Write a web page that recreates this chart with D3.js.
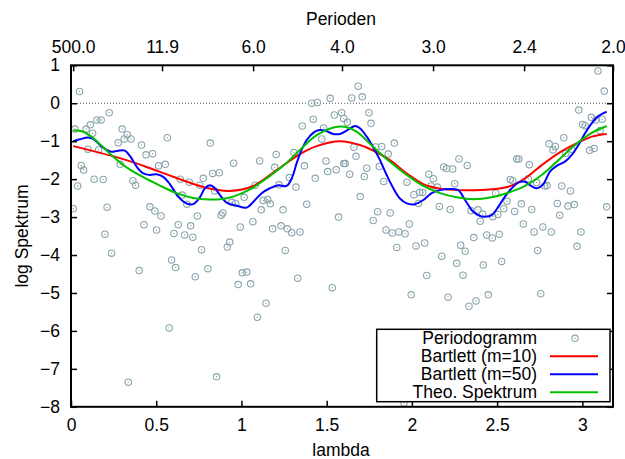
<!DOCTYPE html>
<html>
<head>
<meta charset="utf-8">
<script src="https://cdn.jsdelivr.net/npm/d3@7"></script>
<style>
body { margin: 0; background: #fff; }
text { font-family: "Liberation Sans", Arial, sans-serif; }
</style>
</head>
<body>
<svg id="Viz" width="625" height="459"></svg>
<script>
// tick values / labels
var lambdaTicks = [0, 0.5, 1, 1.5, 2, 2.5, 3];
var logTicks = [-8, -7, -6, -5, -4, -3, -2, -1, 0, 1];
var periodIdx = [1, 42, 84, 125, 167, 209, 250];
var periodLabels = ["500.0", "11.9", "6.0", "4.0", "3.0", "2.4", "2.0"];

// periodogram points [lambda, log]
var periodogram = [
  [0.050,0.31],[0.224,-0.25],[0.152,-0.44],[0.177,-0.44],[0.113,-0.57],[0.089,-0.68],[0.023,-0.68],
  [0.127,-0.79],[0.300,-0.68],[0.330,-0.83],[0.312,-0.94],[0.352,-0.94],[0.277,-1.04],[0.565,-0.91],
  [0.414,-1.10],[0.099,-1.21],[0.162,-1.23],[0.440,-1.36],[0.479,-1.33],[0.060,-1.64],[0.074,-1.76],
  [0.289,-1.61],[0.514,-1.65],[0.553,-1.61],[0.136,-2.00],[0.189,-2.01],[0.363,-2.04],[0.379,-2.16],
  [0.039,-2.18],[0.641,-2.00],[0.694,-2.08],[0.776,-1.98],[0.755,-2.16],[0.653,-2.42],[0.680,-2.66],
  [0.013,-2.78],[0.212,-2.74],[0.463,-2.73],[0.492,-2.84],[0.528,-2.97],[0.741,-2.97],[0.428,-3.20],
  [0.502,-3.34],[0.629,-3.20],[0.702,-3.23],[0.199,-3.45],[0.604,-3.43],[0.667,-3.47],[0.715,-3.53],
  [0.238,-3.95],[0.766,-3.86],[0.590,-4.13],[0.614,-4.33],[0.400,-4.41],[0.729,-4.57],[0.576,-5.92],
  [0.336,-7.35],
  [1.412,0.00],[1.445,0.02],[1.521,0.13],[1.545,-0.31],[1.588,-0.25],[1.600,-0.40],[1.421,-0.42],
  [1.357,-0.60],[1.482,-0.65],[1.471,-0.94],[0.817,-1.05],[1.204,-1.35],[1.308,-1.30],[1.107,-1.52],
  [0.954,-1.58],[1.195,-1.69],[1.369,-1.65],[1.496,-1.52],[1.506,-1.80],[1.556,-1.75],[1.600,-1.59],
  [0.831,-1.85],[0.870,-1.83],[1.281,-1.96],[1.433,-1.98],[1.220,-2.15],[1.081,-2.16],[1.320,-2.21],
  [0.843,-2.31],[1.016,-2.48],[0.944,-2.61],[0.966,-2.64],[1.128,-2.56],[1.154,-2.54],[1.169,-2.65],
  [1.116,-2.81],[1.244,-2.81],[1.383,-2.66],[0.881,-2.95],[0.891,-2.89],[1.067,-3.12],[0.993,-3.26],
  [1.183,-3.31],[1.232,-3.23],[1.269,-3.31],[1.295,-3.41],[1.343,-3.39],[1.570,-3.00],[0.931,-3.66],
  [0.917,-3.79],[1.257,-3.88],[0.803,-4.36],[1.005,-4.47],[1.031,-4.45],[0.981,-4.78],[1.054,-4.76],
  [1.330,-4.61],[1.533,-4.86],[1.144,-5.27],[1.093,-5.64],[0.854,-7.21],
  [1.685,0.45],[1.647,0.14],[1.709,0.17],[1.748,-0.25],[1.621,-0.50],[1.760,-0.53],[1.897,-1.05],
  [1.660,-1.16],[1.788,-1.15],[1.823,-1.14],[1.861,-1.34],[1.672,-1.40],[1.609,-1.59],[1.735,-1.71],
  [1.809,-1.67],[1.635,-1.87],[1.721,-1.93],[2.276,-1.47],[2.325,-1.64],[2.187,-1.68],[2.204,-1.72],
  [2.239,-1.73],[2.099,-1.87],[2.126,-1.99],[2.251,-2.12],[1.835,-2.06],[1.971,-2.08],[2.112,-2.18],
  [2.149,-2.21],[2.046,-2.35],[2.063,-2.35],[2.012,-2.41],[2.038,-2.64],[1.697,-2.46],[2.161,-2.72],
  [2.225,-2.80],[2.347,-2.83],[2.388,-2.81],[2.415,-2.92],[1.799,-2.86],[1.873,-2.89],[1.773,-3.09],
  [1.985,-3.18],[1.848,-3.34],[1.885,-3.42],[1.924,-3.39],[1.960,-3.44],[1.911,-3.80],[2.024,-3.76],
  [2.075,-3.68],[2.286,-3.74],[2.313,-3.90],[2.363,-3.54],[2.175,-4.03],[2.263,-4.22],[2.419,-4.26],
  [2.087,-4.54],[2.300,-4.53],[1.996,-5.05],[2.212,-5.11],[2.335,-5.35],[2.376,-5.21],[1.954,-7.90],
  [3.092,0.85],[3.129,0.32],[2.979,-0.18],[3.053,-0.37],[3.079,-0.44],[3.116,-0.42],[3.002,-0.56],
  [3.016,-0.59],[3.104,-0.72],[2.891,-0.91],[2.805,-1.07],[2.842,-1.14],[2.828,-1.23],[3.043,-1.24],
  [3.069,-1.19],[2.938,-1.21],[2.903,-1.32],[2.615,-1.47],[2.627,-1.47],[2.689,-1.62],[2.577,-2.01],
  [2.592,-2.04],[2.683,-1.99],[2.732,-2.09],[2.779,-2.18],[2.793,-2.17],[2.879,-2.18],[2.930,-2.31],
  [2.492,-2.37],[3.143,-2.73],[2.558,-2.58],[2.642,-2.65],[2.853,-2.64],[2.916,-2.71],[2.953,-2.67],
  [2.539,-2.78],[2.603,-2.85],[2.703,-2.80],[2.504,-2.93],[2.474,-2.99],[2.401,-3.11],[2.867,-2.95],
  [2.654,-3.18],[2.717,-3.39],[2.768,-3.26],[2.818,-3.39],[2.992,-3.39],[2.439,-3.47],[2.513,-3.45],
  [2.472,-3.55],[2.738,-3.88],[2.969,-3.77],[2.527,-4.17],[2.448,-5.05],[2.756,-5.02]
];

// Bartlett window m=10
var bartlett10 = [
  [0.013,-1.13],[0.326,-1.50],[0.522,-1.81],[0.786,-2.22],[0.933,-2.31],[1.069,-2.18],[1.207,-1.76],
  [1.343,-1.34],[1.441,-1.13],[1.578,-1.00],[1.695,-1.10],[1.773,-1.25],[1.871,-1.50],[1.970,-1.85],
  [2.067,-2.13],[2.165,-2.25],[2.370,-2.29],[2.566,-2.20],[2.664,-1.98],[2.762,-1.63],[2.859,-1.32],
  [2.957,-1.08],[3.055,-0.88],[3.143,-0.81]
];

// Bartlett window m=50
var bartlett50 = [
  [0.013,-1.00],[0.052,-0.95],[0.101,-0.90],[0.130,-0.94],[0.170,-1.10],[0.209,-1.23],[0.238,-1.28],
  [0.277,-1.25],[0.316,-1.25],[0.346,-1.39],[0.385,-1.67],[0.424,-1.85],[0.463,-1.89],[0.502,-1.87],
  [0.541,-1.94],[0.580,-2.13],[0.629,-2.46],[0.678,-2.64],[0.717,-2.66],[0.756,-2.48],[0.786,-2.24],
  [0.815,-2.16],[0.845,-2.24],[0.874,-2.42],[0.913,-2.62],[0.972,-2.70],[1.031,-2.75],[1.069,-2.60],
  [1.119,-2.37],[1.167,-2.24],[1.216,-2.16],[1.265,-2.18],[1.295,-1.98],[1.324,-1.58],[1.353,-1.23],
  [1.383,-0.97],[1.421,-0.78],[1.451,-0.71],[1.490,-0.72],[1.539,-0.81],[1.578,-0.81],[1.617,-0.72],
  [1.666,-0.60],[1.695,-0.66],[1.735,-0.88],[1.773,-1.16],[1.813,-1.50],[1.852,-1.89],[1.891,-2.24],
  [1.930,-2.51],[1.970,-2.64],[2.018,-2.66],[2.067,-2.55],[2.116,-2.37],[2.165,-2.29],[2.224,-2.26],
  [2.272,-2.29],[2.312,-2.55],[2.360,-2.86],[2.400,-2.97],[2.429,-2.99],[2.468,-2.95],[2.507,-2.73],
  [2.546,-2.46],[2.586,-2.24],[2.624,-2.09],[2.664,-2.07],[2.693,-2.16],[2.732,-2.24],[2.771,-2.13],
  [2.810,-1.80],[2.850,-1.65],[2.898,-1.54],[2.938,-1.36],[2.977,-1.10],[3.016,-0.79],[3.055,-0.53],
  [3.094,-0.34],[3.143,-0.22]
];

// theoretical spectrum
var theo = [
  [0.013,-0.71],[0.072,-0.75],[0.130,-0.92],[0.189,-1.16],[0.248,-1.41],[0.326,-1.69],[0.424,-1.95],
  [0.522,-2.17],[0.620,-2.37],[0.717,-2.50],[0.786,-2.53],[0.874,-2.53],[0.952,-2.46],[1.050,-2.27],
  [1.148,-1.98],[1.245,-1.65],[1.343,-1.23],[1.441,-0.84],[1.539,-0.64],[1.607,-0.62],[1.676,-0.75],
  [1.773,-1.15],[1.871,-1.54],[1.970,-1.89],[2.067,-2.18],[2.165,-2.37],[2.263,-2.48],[2.360,-2.53],
  [2.468,-2.48],[2.566,-2.36],[2.664,-2.18],[2.762,-1.89],[2.859,-1.50],[2.957,-1.10],[3.055,-0.78],
  [3.143,-0.60]
];

var series = [
  {name: "Bartlett (m=10)", data: bartlett10, color: "#ff0000"},
  {name: "Bartlett (m=50)", data: bartlett50, color: "#0000ff"},
  {name: "Theo. Spektrum", data: theo, color: "#00c000"}
];

var svg = d3.select("#Viz"),
    padL = 71, padR = 613, padT = 65.3, padB = 406.8;

var x = d3.scaleLinear().domain([0, 3.18]).range([padL, padR]);
var x2 = d3.scaleLinear().domain([0, 250]).range([padL, padR]);
var y = d3.scaleLinear().domain([-8, 1]).range([padB, padT]);

var ptColor = "#8aa5ac";

svg.append("defs").append("clipPath").attr("id", "clip")
  .append("rect").attr("x", padL).attr("y", padT).attr("width", padR - padL).attr("height", padB - padT);

// zero line
svg.append("line")
  .attr("x1", padL).attr("x2", padR)
  .attr("y1", y(0)).attr("y2", y(0))
  .attr("stroke", "#555").attr("stroke-width", 1)
  .attr("stroke-dasharray", "1,2");

// periodogram
var pts = svg.append("g").attr("clip-path", "url(#clip)")
  .selectAll("g").data(periodogram).enter().append("g")
  .attr("transform", function(d) { return "translate(" + x(d[0]) + "," + y(d[1]) + ")"; });
pts.append("circle").attr("r", 3.2).attr("fill", "none").attr("stroke", ptColor).attr("stroke-width", 1.1);
pts.append("circle").attr("r", 0.7).attr("fill", ptColor);

// curves
var line = d3.line()
  .x(function(d) { return x(d[0]); })
  .y(function(d) { return y(d[1]); })
  .curve(d3.curveCatmullRom.alpha(0.5));

svg.append("g").attr("clip-path", "url(#clip)")
  .selectAll("path").data(series).enter().append("path")
  .attr("d", function(d) { return line(d.data); })
  .attr("fill", "none")
  .attr("stroke", function(d) { return d.color; })
  .attr("stroke-width", 2);

// axes
var fs = 17.5;
function styleAxis(g) {
  g.select(".domain").remove();
  g.selectAll(".tick line").attr("stroke", "#000").attr("stroke-width", 1.5);
  g.selectAll(".tick text").attr("fill", "#000").style("font-size", fs + "px")
    .style("font-family", '"Liberation Sans", Arial, sans-serif');
}

svg.append("g").attr("transform", "translate(0," + padB + ")")
  .call(d3.axisBottom(x).tickValues(lambdaTicks).tickSize(-6).tickPadding(12)
    .tickFormat(d3.format("")))
  .call(styleAxis);

svg.append("g").attr("transform", "translate(0," + padT + ")")
  .call(d3.axisTop(x2).tickValues(periodIdx).tickSize(-6).tickPadding(12)
    .tickFormat(function(d, i) { return periodLabels[i]; }))
  .call(styleAxis);

svg.append("g").attr("transform", "translate(" + padL + ",0)")
  .call(d3.axisLeft(y).tickValues(logTicks).tickSize(-6).tickPadding(11))
  .call(styleAxis);

svg.append("g").attr("transform", "translate(" + padR + ",0)")
  .call(d3.axisRight(y).tickValues(logTicks).tickSize(-6).tickFormat(""))
  .call(styleAxis);

// frame
svg.append("rect")
  .attr("x", padL).attr("y", padT)
  .attr("width", padR - padL).attr("height", padB - padT)
  .attr("fill", "none").attr("stroke", "#000").attr("stroke-width", 2);

// axis titles
svg.append("text").attr("x", 341).attr("y", 456).attr("text-anchor", "middle")
  .style("font-size", fs + "px").text("lambda");
svg.append("text").attr("x", 341).attr("y", 25).attr("text-anchor", "middle")
  .style("font-size", fs + "px").text("Perioden");
svg.append("text").attr("transform", "translate(28,236) rotate(-90)").attr("text-anchor", "middle")
  .style("font-size", fs + "px").text("log Spektrum");

// legend
var lg = svg.append("g");
lg.append("rect").attr("x", 376.7).attr("y", 329.3).attr("width", 233.3).attr("height", 72.4)
  .attr("fill", "#fff").attr("stroke", "#000").attr("stroke-width", 1.5);
var rowY = [338.3, 356.3, 374.3, 392.3];
lg.append("text").attr("x", 537).attr("y", rowY[0]).attr("dy", "0.35em").attr("text-anchor", "end")
  .style("font-size", fs + "px").text("Periodogramm");
lg.append("circle").attr("cx", 575).attr("cy", rowY[0]).attr("r", 3.2)
  .attr("fill", "none").attr("stroke", ptColor).attr("stroke-width", 1.1);
lg.append("circle").attr("cx", 575).attr("cy", rowY[0]).attr("r", 0.7).attr("fill", ptColor);
series.forEach(function(s, i) {
  lg.append("text").attr("x", 537).attr("y", rowY[i + 1]).attr("dy", "0.35em").attr("text-anchor", "end")
    .style("font-size", fs + "px").text(s.name);
  lg.append("line").attr("x1", 550).attr("x2", 598).attr("y1", rowY[i + 1]).attr("y2", rowY[i + 1])
    .attr("stroke", s.color).attr("stroke-width", 2);
});
</script>
</body>
</html>
